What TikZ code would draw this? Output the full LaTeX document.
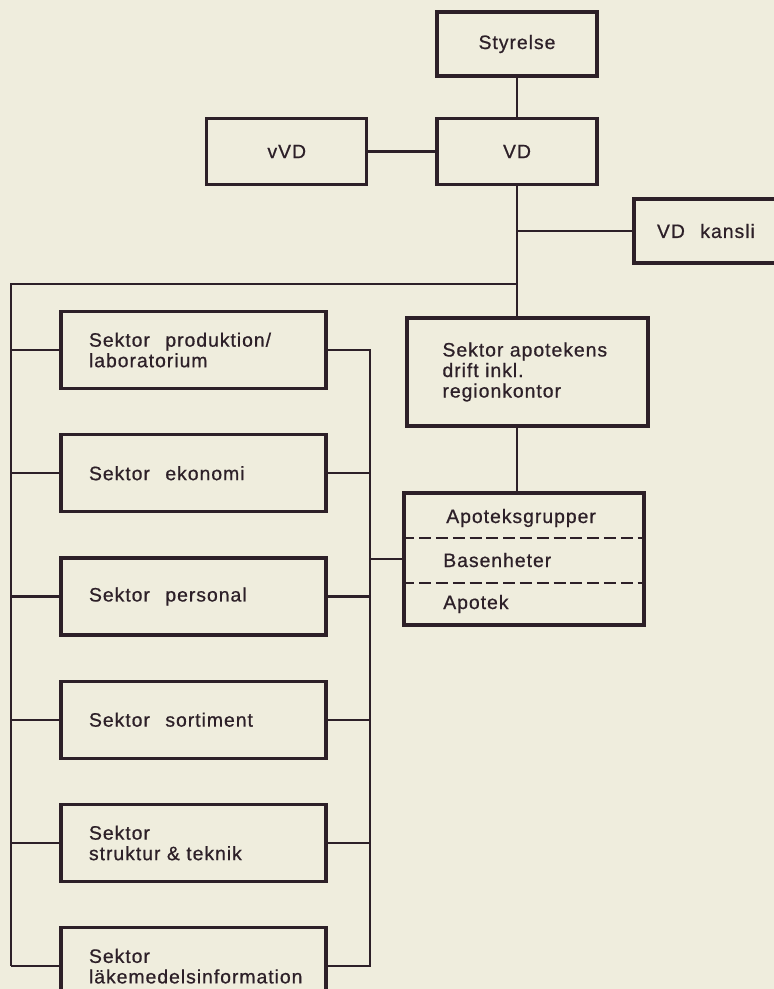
\documentclass[tikz,border=0pt]{standalone}
\usepackage{fontspec}
\setmainfont{Liberation Sans}[LetterSpace=5, FakeBold=0.7]
\usepackage{xcolor}
\usepackage{tikz}
\usetikzlibrary{positioning}
\definecolor{paper}{RGB}{239,237,221}
\definecolor{ink}{RGB}{45,32,40}
\newcommand{\wgap}{\hspace{11pt}}

\begin{document}
\begin{tikzpicture}[x=0.25mm, y=-0.25mm, node distance=10.75mm,
    box/.style={rectangle, draw=ink, line width=2.3pt, text=ink, font=\fontsize{13.8}{14.6}\selectfont, inner sep=0pt},
    topbox/.style={box, minimum width=40mm, minimum height=16.5mm},
    kanslibox/.style={box, minimum width=41.5mm, minimum height=16mm, text width=30mm, align=left},
    apobox/.style={box, minimum width=60.25mm, minimum height=27mm, text width=42.5mm, align=left},
    groupbox/.style={box, minimum width=60mm, minimum height=33mm},
    sektorbox/.style={box, minimum width=66.25mm, minimum height=19.25mm, text width=52.25mm, align=left},
    grouptext/.style={text=ink, font=\fontsize{13.8}{14.6}\selectfont, inner sep=0pt, anchor=base west},
    link/.style={draw=ink, line width=1.7pt},
    sepline/.style={draw=ink, line width=1.7pt, dash pattern=on 3mm off 1.2mm}]

    \useasboundingbox (0,0) rectangle (774,989);
    \clip (0,0) rectangle (774,989);
    \fill[paper] (0,0) rectangle (774,989);

    \node [topbox, minimum height=16mm] (styrelse) at (517,44) {Styrelse};
    \node [topbox] (vd) at (517,151.5) {VD};
    \node [topbox, left=16.75mm of vd] (vvd) {vVD};
    \node [kanslibox] (kansli) at (717,231) {VD\wgap kansli};
    \node [apobox] (apotekens) at (527.5,372) {Sektor apotekens\\ drift inkl.\\ regionkontor};

    \node [groupbox] (grupper) at (524,559) {};
    \node [grouptext] (grname) at (446,523) {Apoteksgrupper};
    \node [grouptext] (basen) at (443,567) {Basenheter};
    \node [grouptext] (apotek) at (443,609) {Apotek};
    \draw [sepline] (grupper.west |- 0,538) -- (grupper.east |- 0,538);
    \draw [sepline] (grupper.west |- 0,583) -- (grupper.east |- 0,583);

    \node [sektorbox] (prod) at (193.5,350) {Sektor\wgap produktion/\\ laboratorium};
    \node [sektorbox, below=of prod] (eko) {Sektor\wgap ekonomi};
    \node [sektorbox, below=of eko] (pers) {Sektor\wgap personal};
    \node [sektorbox, below=of pers] (sort) {Sektor\wgap sortiment};
    \node [sektorbox, below=of sort] (strukt) {Sektor\\ struktur \& teknik};
    \node [sektorbox, below=of strukt] (lake) {Sektor\\ läkemedelsinformation};

    \coordinate (lt) at (11,284);
    \coordinate (rb) at (370,350);

    \draw [link] (styrelse) -- (vd);
    \draw [link] (vvd) -- (vd);
    \draw [link] (vd) -- (vd |- apotekens.north);
    \draw [link] (vd |- kansli) -- (kansli);
    \draw [link] (vd |- lt) -- (lt) -- (lt |- lake);
    \draw [link] (lt |- prod) -- (prod);
    \draw [link] (lt |- eko) -- (eko);
    \draw [link] (lt |- pers) -- (pers);
    \draw [link] (lt |- sort) -- (sort);
    \draw [link] (lt |- strukt) -- (strukt);
    \draw [link] (lt |- lake) -- (lake);
    \draw [link] (prod) -- (rb |- prod) -- (rb |- lake) -- (lake);
    \draw [link] (eko) -- (rb |- eko);
    \draw [link] (pers) -- (rb |- pers);
    \draw [link] (sort) -- (rb |- sort);
    \draw [link] (strukt) -- (rb |- strukt);
    \draw [link] (rb |- grupper) -- (grupper);
    \draw [link] (apotekens.south -| vd) -- (grupper.north -| vd);

\end{tikzpicture}
\end{document}
